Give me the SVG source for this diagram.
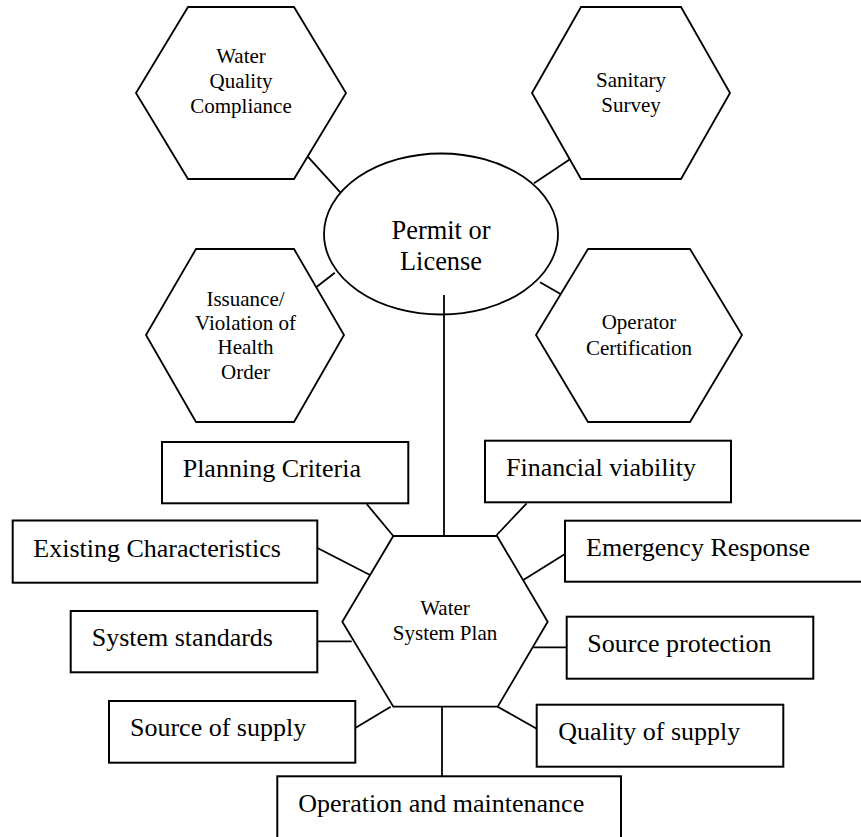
<svg xmlns="http://www.w3.org/2000/svg" width="861" height="837" viewBox="0 0 861 837">
<style>
.shape{fill:#fff;stroke:#000;stroke-width:1.8}
.box{fill:#fff;stroke:#000;stroke-width:2}
.line{stroke:#000;stroke-width:1.8;fill:none}
.h{font-size:21px;text-anchor:middle}
.b{font-size:26px}
.e{font-size:26.4px;text-anchor:middle}
</style>
<rect width="861" height="837" fill="#fff"/>
<g id="connectors">
<line class="line" x1="307.8" y1="156.7" x2="340.5" y2="192.7"/>
<line class="line" x1="569.9" y1="159.3" x2="534" y2="183.3"/>
<line class="line" x1="334.8" y1="272.7" x2="314.9" y2="288.3"/>
<line class="line" x1="540" y1="282.3" x2="561" y2="294.3"/>
<line class="line" x1="444" y1="295" x2="444" y2="536"/>
<line class="line" x1="366.7" y1="504" x2="393.3" y2="536"/>
<line class="line" x1="316" y1="547.3" x2="370" y2="575"/>
<line class="line" x1="317" y1="641.3" x2="351.7" y2="641.3"/>
<line class="line" x1="354" y1="728.7" x2="390.7" y2="706.7"/>
<line class="line" x1="442" y1="706.7" x2="442" y2="776.7"/>
<line class="line" x1="526.7" y1="503.3" x2="496.7" y2="535"/>
<line class="line" x1="565" y1="554" x2="523.3" y2="580"/>
<line class="line" x1="533.3" y1="647.3" x2="566.7" y2="647.3"/>
<line class="line" x1="497.7" y1="706.7" x2="536.7" y2="728.7"/>
</g>
<g font-family="Liberation Serif, DejaVu Serif, serif" fill="#000">
<g id="water-quality-compliance">
<polygon class="shape" points="136,93 188,7 294,7 346,93 294,179 188,179"/>
<text class="h" x="241" y="63">Water</text>
<text class="h" x="241" y="88">Quality</text>
<text class="h" x="241" y="112.5">Compliance</text>
</g>
<g id="sanitary-survey">
<polygon class="shape" points="532,93 581,7 681,7 730,93 681,179 581,179"/>
<text class="h" x="631" y="86.7">Sanitary</text>
<text class="h" x="631" y="111.5">Survey</text>
</g>
<g id="issuance">
<polygon class="shape" points="146,335 196,249 294,249 344,335 294,422 196,422"/>
<text class="h" x="245.5" y="305.7">Issuance/</text>
<text class="h" x="245.5" y="330">Violation of</text>
<text class="h" x="245.5" y="354.3">Health</text>
<text class="h" x="245.5" y="378.7">Order</text>
</g>
<g id="operator-certification">
<polygon class="shape" points="536,335 588,249 690,249 742,335 690,422 588,422"/>
<text class="h" x="639" y="329.3">Operator</text>
<text class="h" x="639" y="355">Certification</text>
</g>
<g id="permit-or-license">
<ellipse class="shape" cx="441" cy="234" rx="117" ry="80.5"/>
<line class="line" x1="444" y1="295" x2="444" y2="315"/>
<text class="e" x="441" y="239.3">Permit or</text>
<text class="e" x="441" y="270">License</text>
</g>
<g id="water-system-plan">
<polygon class="shape" points="342.3,621.7 393.3,536 497,536 547.7,621.7 497.7,706.7 393.3,706.7"/>
<text class="h" x="445" y="615">Water</text>
<text class="h" x="445" y="640">System Plan</text>
</g>
<g id="planning-criteria">
<rect class="box" x="162" y="442" width="246.3" height="61.3"/>
<text class="b" x="182.7" y="477">Planning Criteria</text>
</g>
<g id="existing-characteristics">
<rect class="box" x="12.7" y="520.5" width="304.6" height="62.2"/>
<text class="b" x="33.3" y="556.5">Existing Characteristics</text>
</g>
<g id="system-standards">
<rect class="box" x="70.7" y="611" width="246.6" height="61.3"/>
<text class="b" x="91.7" y="646">System standards</text>
</g>
<g id="source-of-supply">
<rect class="box" x="109" y="701" width="246.3" height="61.7"/>
<text class="b" x="130" y="736">Source of supply</text>
</g>
<g id="operation-and-maintenance">
<rect class="box" x="277.3" y="776.3" width="343.7" height="70"/>
<text class="b" x="298.3" y="811.7">Operation and maintenance</text>
</g>
<g id="financial-viability">
<rect class="box" x="485" y="440.7" width="246" height="61.6"/>
<text class="b" x="506" y="476">Financial viability</text>
</g>
<g id="emergency-response">
<rect class="box" x="565" y="520.7" width="300" height="61"/>
<text class="b" x="586" y="556">Emergency Response</text>
</g>
<g id="source-protection">
<rect class="box" x="566.7" y="616.7" width="246.6" height="62"/>
<text class="b" x="587.3" y="651.7">Source protection</text>
</g>
<g id="quality-of-supply">
<rect class="box" x="536.7" y="704.7" width="246.6" height="62"/>
<text class="b" x="558.3" y="740">Quality of supply</text>
</g>
</g>
</svg>
